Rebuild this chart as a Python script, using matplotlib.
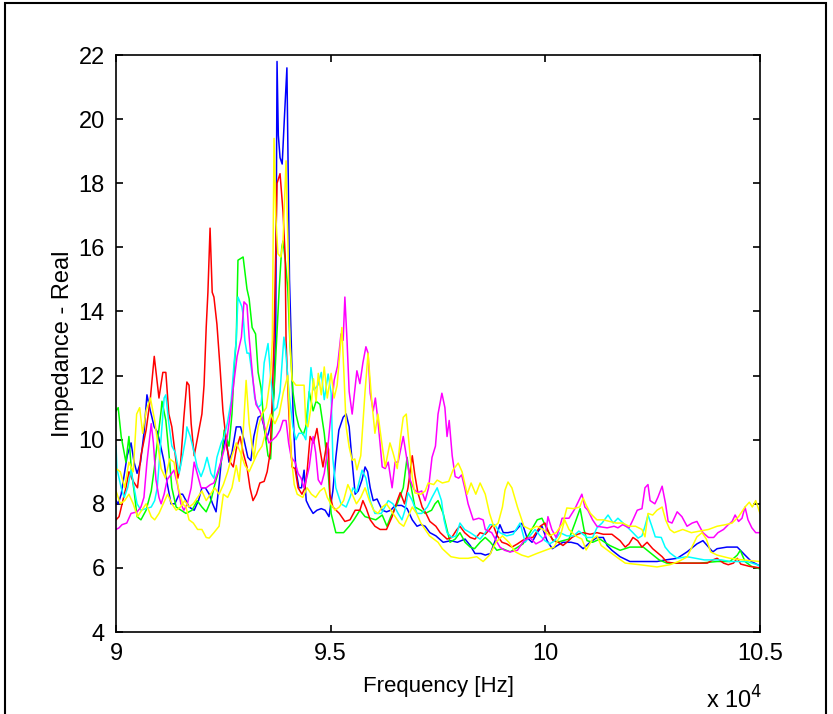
import numpy as np
import matplotlib
matplotlib.use("Agg")
import matplotlib.pyplot as plt
from matplotlib.patches import Rectangle

plt.rcParams['font.family'] = ['Liberation Sans', 'DejaVu Sans']

# (frequency in kHz, real impedance)
blue = [(90.00, 8.1), (90.05, 8.0), (90.12, 8.3), (90.26, 9.5), (90.35, 9.9), (90.42, 9.3),
        (90.49, 8.95), (90.57, 9.3), (90.65, 10.2), (90.72, 11.4), (90.80, 10.9), (90.89, 10.4),
        (90.96, 10.25), (91.04, 9.8), (91.12, 9.3), (91.19, 8.65), (91.28, 8.0), (91.37, 8.0),
        (91.47, 8.3), (91.55, 8.3), (91.63, 8.1), (91.70, 7.9), (91.82, 7.8), (91.92, 8.1),
        (92.00, 8.5), (92.08, 8.5), (92.17, 8.3), (92.25, 8.0), (92.33, 7.75), (92.40, 8.6),
        (92.47, 9.6), (92.56, 10.1), (92.63, 9.3), (92.70, 9.6), (92.80, 10.4), (92.90, 10.4),
        (92.98, 10.0), (93.07, 9.45), (93.14, 9.35), (93.21, 10.1), (93.31, 10.7), (93.38, 10.75),
        (93.45, 10.4), (93.49, 10.0), (93.55, 10.2), (93.62, 10.6), (93.68, 11.5), (93.72, 13.5),
        (93.75, 21.8), (93.78, 19.5), (93.82, 18.8), (93.87, 18.6), (93.92, 20.0), (93.98, 21.6),
        (94.04, 15.0), (94.08, 13.1), (94.12, 11.0), (94.15, 10.0), (94.19, 9.05), (94.26, 8.5),
        (94.32, 8.5), (94.38, 9.05), (94.43, 8.1), (94.50, 7.9), (94.59, 7.7), (94.68, 7.8),
        (94.78, 7.85), (94.87, 7.8), (94.96, 7.6), (95.05, 8.4), (95.12, 9.45), (95.19, 10.3),
        (95.29, 10.7), (95.36, 10.8), (95.43, 10.4), (95.50, 9.3), (95.57, 8.3), (95.64, 8.4),
        (95.73, 8.75), (95.80, 9.15), (95.86, 9.0), (95.92, 8.5), (95.99, 8.1), (96.08, 8.15),
        (96.20, 7.8), (96.30, 7.75), (96.40, 7.8), (96.50, 7.95), (96.65, 7.95), (96.78, 7.85),
        (96.90, 7.5), (97.01, 7.3), (97.10, 7.35), (97.20, 7.3), (97.31, 7.1), (97.45, 7.0),
        (97.62, 6.8), (97.80, 6.85), (97.95, 6.8), (98.13, 6.9), (98.25, 6.7), (98.36, 6.45),
        (98.50, 6.45), (98.60, 6.4), (98.72, 6.45), (98.83, 6.85), (98.94, 7.35), (99.02, 7.1),
        (99.13, 7.1), (99.30, 7.15), (99.46, 7.4), (99.57, 6.95), (99.69, 6.8), (99.81, 7.1),
        (99.92, 7.3), (100.04, 6.85), (100.16, 6.6), (100.28, 6.7), (100.41, 6.8), (100.60, 6.8),
        (100.75, 6.75), (100.88, 6.6), (101.04, 6.8), (101.20, 6.95), (101.35, 6.95), (101.44, 6.7),
        (101.55, 6.55), (101.74, 6.35), (101.97, 6.2), (102.30, 6.2), (102.60, 6.2), (102.80, 6.25),
        (103.07, 6.3), (103.30, 6.5), (103.53, 6.75), (103.67, 6.85), (103.80, 6.65), (103.90, 6.5),
        (104.00, 6.6), (104.23, 6.65), (104.47, 6.65), (104.65, 6.4), (104.80, 6.2), (105.00, 6.06)]

green = [(90.00, 10.9), (90.05, 11.0), (90.12, 10.1), (90.23, 9.3), (90.30, 10.1), (90.36, 9.0),
         (90.42, 8.4), (90.49, 7.6), (90.58, 7.5), (90.70, 7.8), (90.82, 8.4), (90.89, 9.1),
         (90.96, 9.9), (91.05, 10.9), (91.07, 11.2), (91.16, 10.6), (91.23, 9.6), (91.30, 8.5),
         (91.40, 7.9), (91.63, 7.7), (91.77, 7.8), (91.89, 8.1), (92.00, 7.9), (92.10, 7.75),
         (92.21, 8.1), (92.30, 8.6), (92.45, 9.3), (92.52, 10.3), (92.63, 9.8), (92.70, 10.8),
         (92.76, 12.4), (92.80, 13.1), (92.84, 15.6), (92.96, 15.7), (93.05, 14.7), (93.10, 14.4),
         (93.17, 13.5), (93.25, 13.3), (93.31, 12.1), (93.38, 11.6), (93.45, 10.4), (93.54, 9.5),
         (93.60, 9.4), (93.66, 11.0), (93.73, 12.8), (93.80, 14.7), (93.86, 16.0), (93.89, 16.2),
         (93.95, 15.5), (94.00, 14.7), (94.05, 13.0), (94.12, 11.5), (94.19, 10.8), (94.26, 10.4),
         (94.36, 10.15), (94.42, 10.4), (94.50, 11.5), (94.59, 10.9), (94.66, 11.2), (94.75, 11.1),
         (94.85, 10.2), (94.94, 9.0), (95.01, 7.7), (95.12, 7.1), (95.30, 7.1), (95.43, 7.3),
         (95.54, 7.5), (95.68, 7.8), (95.80, 7.6), (95.92, 7.55), (96.05, 7.5), (96.20, 7.65),
         (96.31, 7.3), (96.40, 7.6), (96.55, 8.0), (96.69, 8.5), (96.78, 9.45), (96.85, 8.7),
         (96.96, 7.9), (97.10, 7.8), (97.20, 7.7), (97.35, 7.8), (97.43, 8.0), (97.50, 8.1),
         (97.62, 7.7), (97.71, 7.2), (97.78, 6.8), (97.90, 6.9), (98.01, 7.1), (98.13, 6.8),
         (98.25, 6.65), (98.35, 6.6), (98.48, 6.8), (98.60, 6.95), (98.72, 6.8), (98.87, 6.55),
         (99.00, 6.6), (99.18, 6.5), (99.30, 6.6), (99.48, 6.75), (99.64, 7.1), (99.81, 7.5),
         (99.92, 7.55), (100.04, 7.2), (100.16, 6.9), (100.28, 6.8), (100.41, 6.85), (100.55, 6.9),
         (100.69, 7.4), (100.81, 7.85), (100.90, 7.2), (100.97, 6.85), (101.10, 6.8), (101.27, 6.9),
         (101.50, 6.7), (101.74, 6.55), (101.97, 6.65), (102.28, 6.65), (102.51, 6.4), (102.65, 6.25),
         (102.83, 6.15), (103.20, 6.15), (103.60, 6.15), (104.00, 6.2), (104.30, 6.2), (104.47, 6.4),
         (104.54, 6.55), (104.65, 6.2), (104.80, 6.05), (105.00, 5.97)]

red = [(90.00, 7.5), (90.07, 7.6), (90.14, 8.0), (90.23, 8.5), (90.30, 9.0), (90.40, 8.7),
       (90.50, 8.5), (90.58, 9.5), (90.70, 10.3), (90.80, 11.3), (90.89, 12.6), (91.00, 11.3),
       (91.09, 12.1), (91.16, 12.1), (91.23, 10.8), (91.30, 10.4), (91.40, 9.3), (91.44, 8.8),
       (91.50, 9.2), (91.58, 10.7), (91.65, 11.8), (91.70, 11.7), (91.75, 10.5), (91.82, 9.5),
       (91.93, 10.3), (92.00, 10.8), (92.05, 11.7), (92.10, 13.5), (92.14, 14.6), (92.19, 16.6),
       (92.24, 14.6), (92.28, 14.45), (92.35, 13.6), (92.42, 12.3), (92.49, 10.9), (92.59, 9.7),
       (92.66, 9.3), (92.73, 9.15), (92.80, 9.7), (92.89, 10.1), (92.96, 9.6), (93.05, 9.15),
       (93.12, 8.5), (93.19, 8.1), (93.27, 8.3), (93.35, 8.65), (93.45, 8.7), (93.52, 9.0),
       (93.59, 9.6), (93.63, 11.0), (93.68, 13.1), (93.75, 18.0), (93.82, 18.3), (93.89, 17.1),
       (93.94, 15.7), (93.96, 13.1), (94.02, 11.0), (94.05, 10.2), (94.10, 9.15), (94.17, 9.1),
       (94.24, 8.5), (94.33, 8.3), (94.40, 8.5), (94.45, 9.0), (94.52, 10.1), (94.60, 9.9),
       (94.68, 10.35), (94.75, 9.7), (94.82, 9.15), (94.91, 9.9), (94.95, 9.7), (94.98, 8.3),
       (95.05, 7.9), (95.20, 7.7), (95.33, 7.45), (95.45, 7.5), (95.57, 7.8), (95.68, 7.8),
       (95.75, 8.1), (95.83, 7.85), (95.92, 7.5), (96.03, 7.3), (96.15, 7.2), (96.30, 7.2),
       (96.43, 7.6), (96.55, 8.1), (96.62, 8.35), (96.72, 8.0), (96.80, 8.5), (96.90, 9.5),
       (96.96, 8.9), (97.03, 8.35), (97.13, 7.9), (97.22, 7.7), (97.31, 7.45), (97.45, 7.3),
       (97.55, 7.1), (97.71, 6.9), (97.82, 6.95), (97.94, 7.2), (98.01, 7.3), (98.12, 7.1),
       (98.25, 6.95), (98.36, 6.9), (98.48, 7.1), (98.60, 7.05), (98.70, 7.2), (98.78, 7.35),
       (98.88, 7.0), (98.99, 6.8), (99.10, 6.75), (99.22, 6.65), (99.35, 6.75), (99.46, 6.85),
       (99.58, 6.95), (99.71, 6.95), (99.88, 7.3), (99.99, 7.4), (100.08, 7.1), (100.18, 6.85),
       (100.30, 6.8), (100.41, 6.7), (100.50, 6.8), (100.62, 6.95), (100.75, 7.05), (100.88, 7.1),
       (101.04, 7.05), (101.20, 7.1), (101.35, 7.05), (101.55, 7.05), (101.74, 6.85), (101.86, 6.65),
       (101.95, 6.75), (102.04, 6.95), (102.15, 6.85), (102.25, 6.65), (102.37, 6.8), (102.50, 6.6),
       (102.72, 6.35), (102.83, 6.18), (103.00, 6.15), (103.40, 6.15), (103.77, 6.15), (103.90, 6.25),
       (104.00, 6.3), (104.15, 6.15), (104.26, 6.1), (104.38, 6.15), (104.47, 6.3), (104.55, 6.12),
       (104.75, 6.05), (105.00, 6.0)]

cyan = [(90.00, 9.8), (90.02, 9.1), (90.12, 8.5), (90.19, 8.2), (90.27, 8.5), (90.35, 9.05),
        (90.42, 8.5), (90.49, 8.0), (90.58, 7.8), (90.70, 7.85), (90.82, 7.9), (90.90, 8.1),
        (90.96, 8.5), (91.05, 10.1), (91.12, 11.3), (91.16, 11.4), (91.23, 10.5), (91.30, 9.8),
        (91.38, 9.6), (91.47, 8.95), (91.55, 9.5), (91.63, 10.1), (91.65, 10.4), (91.73, 10.1),
        (91.82, 9.6), (91.89, 9.15), (91.98, 8.85), (92.05, 9.1), (92.12, 9.45), (92.21, 8.95),
        (92.28, 8.8), (92.35, 9.45), (92.45, 9.9), (92.52, 10.1), (92.59, 10.5), (92.68, 11.2),
        (92.75, 12.4), (92.80, 13.1), (92.84, 14.45), (92.93, 14.15), (92.96, 13.9), (93.00, 13.1),
        (93.05, 12.7), (93.10, 12.7), (93.19, 11.85), (93.23, 11.3), (93.31, 11.0), (93.38, 11.1),
        (93.45, 12.4), (93.54, 13.0), (93.61, 11.85), (93.68, 10.9), (93.75, 11.0), (93.82, 11.5),
        (93.91, 13.2), (93.95, 12.8), (94.03, 11.45), (94.12, 10.4), (94.19, 10.0), (94.26, 10.2),
        (94.35, 10.2), (94.42, 10.0), (94.47, 10.9), (94.54, 12.25), (94.61, 11.55), (94.70, 11.7),
        (94.78, 12.1), (94.85, 11.25), (94.94, 12.05), (95.01, 11.45), (95.05, 9.4), (95.12, 8.5),
        (95.24, 8.0), (95.36, 7.9), (95.45, 8.2), (95.52, 8.5), (95.60, 8.35), (95.73, 9.05),
        (95.82, 8.8), (95.92, 8.1), (96.03, 7.7), (96.18, 7.7), (96.34, 8.1), (96.45, 8.0),
        (96.57, 7.7), (96.66, 7.5), (96.73, 7.8), (96.80, 8.35), (96.90, 8.1), (97.01, 7.7),
        (97.12, 7.7), (97.25, 7.9), (97.36, 8.2), (97.48, 8.5), (97.58, 8.1), (97.64, 7.5),
        (97.71, 7.1), (97.82, 6.95), (97.92, 7.0), (98.01, 7.4), (98.12, 7.2), (98.25, 7.1),
        (98.36, 7.0), (98.48, 6.9), (98.60, 7.1), (98.71, 7.35), (98.82, 7.35), (98.94, 7.1),
        (99.10, 7.0), (99.25, 7.05), (99.41, 7.4), (99.53, 6.8), (99.64, 7.0), (99.76, 7.2),
        (99.88, 7.0), (99.99, 6.85), (100.10, 6.75), (100.22, 6.85), (100.34, 7.1), (100.50, 7.0),
        (100.66, 7.0), (100.78, 7.15), (100.97, 6.95), (101.10, 6.95), (101.20, 7.25), (101.32, 7.4),
        (101.46, 7.65), (101.58, 7.4), (101.69, 7.55), (101.85, 7.35), (102.04, 7.1), (102.16, 6.93),
        (102.25, 7.0), (102.32, 7.3), (102.39, 7.65), (102.48, 7.3), (102.56, 6.97), (102.70, 6.95),
        (102.79, 6.65), (102.90, 6.47), (103.07, 6.3), (103.30, 6.35), (103.50, 6.3), (103.70, 6.25),
        (103.91, 6.25), (104.10, 6.25), (104.30, 6.2), (104.50, 6.2), (104.70, 6.2), (104.93, 6.1),
        (105.00, 6.05)]

magenta = [(90.00, 7.2), (90.07, 7.25), (90.14, 7.35), (90.25, 7.4), (90.35, 7.7), (90.49, 7.75),
           (90.58, 7.9), (90.65, 8.2), (90.72, 9.3), (90.82, 10.5), (90.87, 9.9), (90.93, 8.75),
           (91.00, 8.2), (91.05, 8.0), (91.12, 8.3), (91.19, 8.75), (91.27, 8.9), (91.35, 9.05),
           (91.43, 8.6), (91.51, 8.0), (91.58, 7.8), (91.66, 8.0), (91.75, 8.5), (91.82, 9.3),
           (91.90, 8.9), (91.98, 8.5), (92.10, 8.5), (92.20, 8.6), (92.28, 8.65), (92.37, 9.0),
           (92.45, 9.35), (92.52, 9.7), (92.59, 10.1), (92.67, 10.9), (92.75, 11.85), (92.82, 12.6),
           (92.92, 13.2), (92.98, 14.3), (93.05, 14.2), (93.10, 13.2), (93.19, 11.85), (93.26, 11.1),
           (93.35, 10.9), (93.42, 10.6), (93.50, 10.2), (93.56, 9.9), (93.65, 10.0), (93.73, 10.1),
           (93.82, 10.3), (93.89, 10.6), (93.96, 10.6), (94.02, 9.9), (94.08, 9.45), (94.17, 9.3),
           (94.24, 8.95), (94.31, 8.8), (94.38, 8.5), (94.44, 8.8), (94.50, 9.15), (94.59, 10.1),
           (94.65, 9.6), (94.71, 8.75), (94.78, 8.6), (94.85, 8.95), (94.92, 9.6), (95.00, 10.7),
           (95.08, 11.85), (95.16, 12.3), (95.24, 13.3), (95.29, 13.1), (95.33, 14.45), (95.38, 13.1),
           (95.43, 11.5), (95.50, 10.8), (95.55, 11.4), (95.61, 12.15), (95.68, 11.75), (95.75, 12.4),
           (95.82, 12.9), (95.87, 12.7), (95.92, 11.45), (95.99, 10.9), (96.04, 11.3), (96.10, 10.6),
           (96.20, 9.15), (96.27, 9.1), (96.34, 9.3), (96.43, 8.5), (96.50, 9.3), (96.57, 9.3),
           (96.69, 10.1), (96.76, 9.5), (96.85, 8.75), (96.94, 8.45), (97.03, 8.35), (97.12, 8.4),
           (97.20, 8.1), (97.28, 8.5), (97.36, 9.45), (97.44, 9.8), (97.50, 10.8), (97.59, 11.45),
           (97.66, 11.0), (97.71, 10.1), (97.76, 10.6), (97.83, 9.5), (97.90, 8.85), (97.98, 8.8),
           (98.05, 8.9), (98.13, 8.45), (98.20, 8.0), (98.32, 7.5), (98.45, 7.55), (98.55, 7.5),
           (98.60, 7.2), (98.75, 7.1), (98.94, 6.65), (99.05, 6.55), (99.18, 6.5), (99.35, 6.55),
           (99.50, 6.85), (99.64, 6.95), (99.78, 6.75), (99.92, 6.85), (100.00, 7.0), (100.06, 7.6),
           (100.15, 7.2), (100.25, 6.95), (100.32, 7.2), (100.39, 7.55), (100.55, 7.55), (100.69, 7.85),
           (100.78, 8.1), (100.85, 8.3), (100.92, 7.9), (100.99, 7.8), (101.10, 7.5), (101.20, 7.3),
           (101.44, 7.25), (101.60, 7.3), (101.69, 7.25), (101.80, 7.35), (101.95, 7.25), (102.04, 7.5),
           (102.14, 7.8), (102.25, 7.85), (102.32, 8.5), (102.39, 8.6), (102.44, 8.1), (102.55, 8.0),
           (102.62, 8.2), (102.72, 8.55), (102.80, 8.0), (102.86, 7.45), (102.95, 7.4), (103.07, 7.75),
           (103.18, 7.6), (103.30, 7.3), (103.42, 7.4), (103.53, 7.45), (103.67, 7.1), (103.80, 6.95),
           (103.92, 6.95), (104.02, 7.1), (104.15, 7.2), (104.26, 7.35), (104.35, 7.45), (104.42, 7.65),
           (104.50, 7.45), (104.58, 7.55), (104.65, 7.9), (104.72, 7.5), (104.81, 7.25), (104.90, 7.1),
           (105.00, 7.1)]

yellow = [(90.00, 9.1), (90.10, 9.0), (90.20, 8.5), (90.30, 9.3), (90.40, 9.0), (90.48, 10.8),
          (90.55, 11.0), (90.62, 10.2), (90.70, 10.9), (90.80, 11.3), (90.90, 10.6), (90.96, 10.0),
          (91.05, 9.1), (91.15, 8.8), (91.25, 9.4), (91.35, 9.3), (91.45, 8.5), (91.55, 8.0),
          (91.63, 7.9), (91.70, 7.5), (91.80, 7.4), (91.90, 7.2), (92.00, 7.2), (92.10, 6.95),
          (92.17, 6.93), (92.28, 7.1), (92.40, 7.3), (92.50, 8.3), (92.60, 8.2), (92.70, 8.5),
          (92.80, 9.2), (92.87, 8.7), (92.96, 10.2), (93.03, 11.85), (93.10, 10.5), (93.21, 9.4),
          (93.31, 10.4), (93.40, 10.8), (93.50, 11.0), (93.60, 12.0), (93.64, 13.1), (93.68, 19.4),
          (93.72, 17.0), (93.77, 15.8), (93.84, 15.7), (93.89, 16.2), (93.96, 18.7), (94.01, 15.7),
          (94.05, 13.1), (94.10, 11.86), (94.19, 11.7), (94.30, 11.7), (94.38, 11.7), (94.42, 10.5),
          (94.47, 10.4), (94.54, 11.0), (94.60, 11.9), (94.66, 11.2), (94.71, 12.07), (94.78, 11.4),
          (94.85, 12.27), (94.92, 11.3), (95.01, 12.07), (95.08, 11.3), (95.15, 11.7), (95.26, 13.5),
          (95.31, 12.0), (95.36, 10.4), (95.43, 9.77), (95.50, 9.36), (95.56, 9.4), (95.61, 9.06),
          (95.70, 9.5), (95.80, 11.5), (95.87, 12.7), (95.95, 11.3), (96.03, 10.2), (96.10, 10.8),
          (96.20, 9.8), (96.27, 9.15), (96.38, 9.9), (96.45, 9.6), (96.55, 9.1), (96.62, 10.0),
          (96.69, 10.7), (96.76, 10.8), (96.85, 9.5), (96.90, 8.84), (96.96, 8.34), (97.10, 8.3),
          (97.20, 8.4), (97.27, 8.65), (97.40, 8.6), (97.48, 8.74), (97.60, 8.65), (97.75, 8.7),
          (97.85, 9.06), (97.97, 9.27), (98.06, 9.0), (98.18, 8.3), (98.27, 8.65), (98.38, 8.3),
          (98.48, 8.65), (98.60, 8.3), (98.70, 7.7), (98.80, 7.28), (98.90, 7.4), (99.00, 7.9),
          (99.06, 8.43), (99.13, 8.68), (99.22, 8.5), (99.35, 7.9), (99.50, 7.3), (99.65, 7.2),
          (99.80, 7.3), (99.95, 7.2), (100.10, 7.0), (100.25, 7.1), (100.41, 7.4), (100.50, 7.87),
          (100.65, 7.85), (100.80, 7.9), (100.88, 8.18), (100.95, 7.96), (101.05, 7.7), (101.20, 7.5),
          (101.35, 7.5), (101.50, 7.45), (101.65, 7.4), (101.80, 7.4), (101.95, 7.3), (102.10, 7.3),
          (102.25, 7.2), (102.32, 6.97), (102.39, 7.7), (102.50, 7.65), (102.60, 7.8), (102.72, 7.9),
          (102.80, 7.5), (102.90, 7.2), (103.00, 7.1), (103.20, 7.2), (103.40, 7.1), (103.60, 7.15),
          (103.80, 7.2), (104.00, 7.3), (104.20, 7.35), (104.35, 7.4), (104.50, 7.6), (104.65, 7.9),
          (104.75, 8.05), (104.82, 7.9), (104.90, 8.1), (104.95, 7.9), (105.00, 7.7)]

yellow2 = [(90.00, 8.4), (90.10, 8.0), (90.20, 8.1), (90.30, 8.3), (90.40, 8.0), (90.50, 7.6),
           (90.60, 7.8), (90.70, 8.0), (90.82, 7.6), (90.90, 7.5), (91.00, 7.7), (91.10, 8.0),
           (91.20, 8.3), (91.30, 8.0), (91.40, 7.8), (91.50, 7.9), (91.60, 8.1), (91.70, 7.9),
           (91.80, 8.0), (91.90, 8.2), (92.00, 8.4), (92.10, 8.1), (92.20, 8.3), (92.30, 8.5),
           (92.40, 8.3), (92.50, 8.6), (92.60, 9.0), (92.70, 9.5), (92.80, 9.9), (92.90, 9.6),
           (93.00, 9.2), (93.10, 9.0), (93.20, 9.3), (93.30, 9.6), (93.40, 9.8), (93.50, 10.3),
           (93.60, 10.8), (93.70, 10.5), (93.80, 10.8), (93.90, 11.5), (94.00, 12.0), (94.05, 10.5),
           (94.08, 9.5), (94.15, 8.6), (94.22, 8.3), (94.35, 8.2), (94.45, 8.5), (94.55, 8.3),
           (94.65, 8.2), (94.75, 8.4), (94.85, 8.5), (94.92, 8.2), (95.00, 8.0), (95.10, 7.8),
           (95.20, 7.9), (95.30, 8.1), (95.40, 8.6), (95.50, 8.3), (95.60, 8.0), (95.70, 8.2),
           (95.80, 8.5), (95.90, 8.1), (96.00, 7.8), (96.10, 7.7), (96.20, 7.9), (96.30, 8.0),
           (96.40, 7.8), (96.50, 7.6), (96.60, 7.4), (96.70, 7.3), (96.80, 7.6), (96.90, 7.9),
           (97.00, 7.7), (97.10, 7.4), (97.20, 7.2), (97.30, 7.0), (97.40, 6.9), (97.50, 6.8),
           (97.60, 6.6), (97.80, 6.35), (98.00, 6.3), (98.20, 6.3), (98.40, 6.35), (98.55, 6.2),
           (98.70, 6.4), (98.85, 6.8), (99.00, 7.0), (99.15, 6.8), (99.30, 6.5), (99.45, 6.4),
           (99.60, 6.34), (99.80, 6.45), (100.00, 6.55), (100.20, 6.65), (100.35, 7.0), (100.45, 7.5),
           (100.55, 7.2), (100.70, 7.0), (100.85, 6.9), (100.95, 6.56), (101.10, 6.9), (101.20, 7.0),
           (101.30, 6.7), (101.50, 6.5), (101.70, 6.3), (101.86, 6.15), (102.20, 6.1), (102.60, 6.03),
           (102.90, 6.1), (103.10, 6.2), (103.30, 6.34), (103.53, 6.97), (103.65, 7.1), (103.75, 6.9),
           (103.85, 6.5), (104.00, 6.4), (104.30, 6.3), (104.60, 6.25), (105.00, 6.2)]

series = [(blue, 'blue'), (green, '#00ff00'), (red, 'red'), (cyan, 'cyan'),
          (magenta, 'magenta'), (yellow2, 'yellow'), (yellow, 'yellow')]

xticks = [90000, 95000, 100000, 105000]
xticklabels = ['9', '9.5', '10', '10.5']
yticks = [4, 6, 8, 10, 12, 14, 16, 18, 20, 22]

fig = plt.figure(figsize=(8.33, 7.14), dpi=100)
ax = fig.add_axes([0.1393, 0.1148, 0.7731, 0.8081])

for data, col in series:
    f, z = zip(*data)
    ax.plot(np.array(f) * 1000, z, color=col, lw=1.1)

ax.set_xlim(90000, 105000)
ax.set_ylim(4, 22)
ax.set_xticks(xticks)
ax.set_xticklabels(xticklabels)
ax.set_yticks(yticks)
ax.tick_params(direction='in', length=5, width=1.2, top=True, right=True,
               labelsize=17, pad=8)
for s in ax.spines.values():
    s.set_linewidth(1.2)

ax.set_xlabel('Frequency [Hz]', fontsize=16)
ax.xaxis.set_label_coords(0.5, -0.076)
ax.set_ylabel('Impedance - Real', fontsize=17)
ax.yaxis.set_label_coords(-0.066, 0.5)
fig.text(0.848, 0.008, r'x 10$^{4}$', fontsize=17, va='baseline')

# outer frame of the exported figure
fig.patches.append(Rectangle((0.006, -0.01), 0.9856, 1.0058, transform=fig.transFigure,
                             fill=False, lw=1.5, ec='black'))

fig.savefig('out.png', dpi=100)
